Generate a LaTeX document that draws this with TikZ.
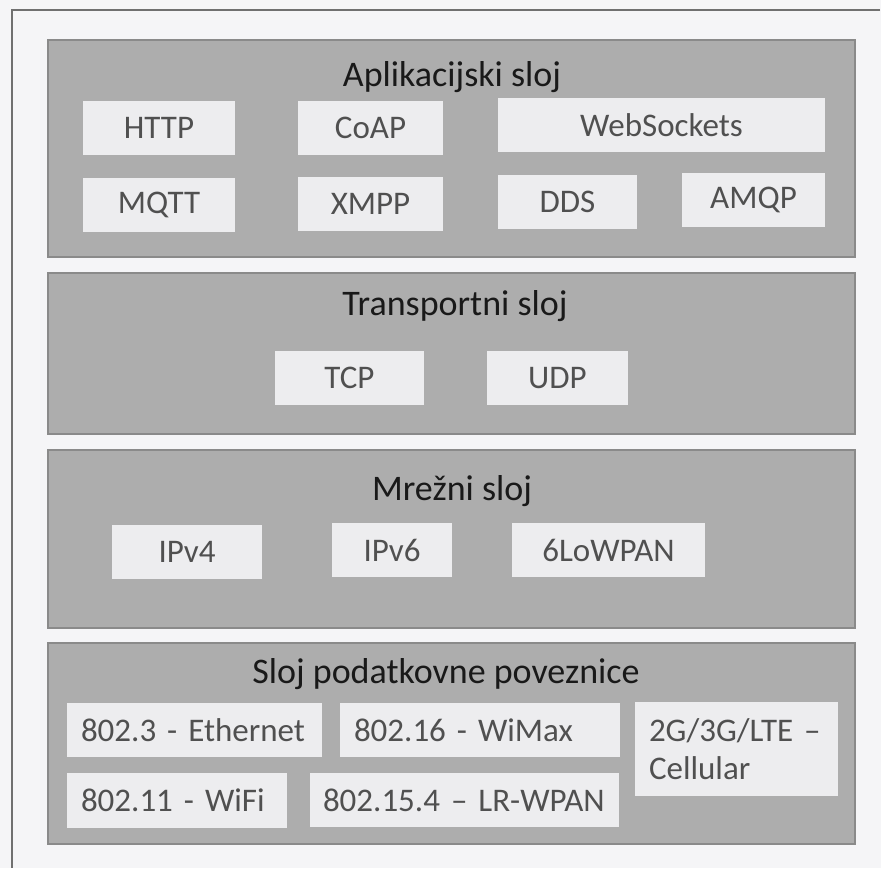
\documentclass[tikz,border=0pt]{standalone}
\usepackage{fontspec}
\setmainfont{Carlito}
\definecolor{pagebg}{HTML}{F5F5F7}
\definecolor{layerfill}{HTML}{ADADAD}
\definecolor{layerline}{HTML}{8A8A8A}
\definecolor{boxfill}{HTML}{EDEDEF}
\definecolor{boxtext}{HTML}{505050}
\definecolor{framegray}{HTML}{707070}
\begin{document}
\begin{tikzpicture}[x=1pt,y=-1pt,
    layer/.style={draw=layerline, line width=1.5pt, fill=layerfill},
    title/.style={anchor=base, font=\fontsize{36}{40}\selectfont, text=black!90},
    proto/.style={fill=boxfill, inner sep=0pt, minimum height=54pt, text=boxtext, font=\fontsize{33}{38}\selectfont},
    linkproto/.style={proto, inner xsep=14pt, align=left}]
        \useasboundingbox (0,0) rectangle (881,868);
        \fill[pagebg] (0,0) rectangle (881,868);
        \draw[framegray, line width=1.2pt] (880,10) -- (12,10) -- (12,868);
        % slojevi
        \draw[layer] (48,40) rectangle (855,257);
        \draw[layer] (48,273) rectangle (855,434);
        \draw[layer] (48,450) rectangle (855,628);
        \draw[layer] (48,643) rectangle (855,844);
        \node[title] (aplikacijski) at (452,86) {Aplikacijski sloj};
        \node[title] (transportni) at (455,315) {Transportni sloj};
        \node[title] (mrezni) at (452,500) {Mrežni sloj};
        \node[title] (povezava) at (446,683) {Sloj podatkovne poveznice};
        % aplikacijski sloj
        \node[proto, minimum width=152pt] (http) at (159,128) {HTTP};
        \node[proto, minimum width=145pt] (coap) at (370.5,128) {CoAP};
        \node[proto, minimum width=327pt] (websockets) at (661.5,125) {WebSockets};
        \node[proto, minimum width=152pt] (mqtt) at (159,205) {MQTT};
        \node[proto, minimum width=145pt] (xmpp) at (370.5,204) {XMPP};
        \node[proto, minimum width=139pt] (dds) at (567.5,202) {DDS};
        \node[proto, minimum width=143pt] (amqp) at (753.5,200) {AMQP};
        % transportni sloj
        \node[proto, minimum width=149pt] (tcp) at (349.5,378) {TCP};
        \node[proto, minimum width=141pt] (udp) at (557.5,378) {UDP};
        % mrezni sloj
        \node[proto, minimum width=150pt] (ipv4) at (187,551.5) {IPv4};
        \node[proto, minimum width=120pt] (ipv6) at (392,550) {IPv6};
        \node[proto, minimum width=193pt] (lowpan) at (608.5,550) {6LoWPAN};
        % sloj podatkovne poveznice
        \node[linkproto, text width=227pt] (ethernet) at (194.5,730) {802.3 - Ethernet};
        \node[linkproto, text width=252pt] (wimax) at (480,730) {802.16 - WiMax};
        \node[linkproto, text width=192pt, minimum height=55pt] (wifi) at (177,800.5) {802.11 - WiFi};
        \node[linkproto, text width=283pt, inner xsep=13pt] (lrwpan) at (464.5,800) {\mbox{802.15.4 – LR-WPAN}};
        \node[linkproto, text width=175pt, minimum height=94pt] (cellular) at (736.5,749) {2G/3G/LTE –\\Cellular};
    \end{tikzpicture}
\end{document}
